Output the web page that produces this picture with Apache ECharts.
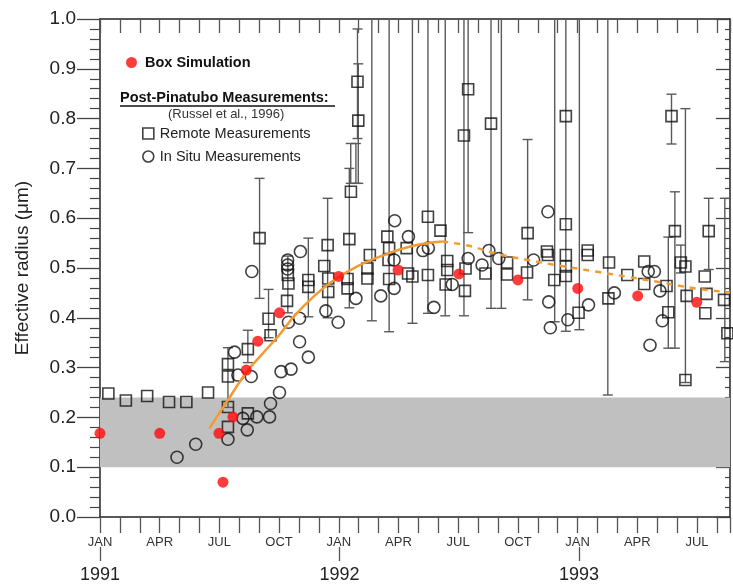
<!DOCTYPE html>
<html>
<head>
<meta charset="utf-8">
<script src="https://cdn.jsdelivr.net/npm/echarts@6/dist/echarts.min.js"></script>
<style>html,body{margin:0;padding:0;background:#fff}#c{width:733px;height:584px}</style>
</head>
<body>
<div id="c"></div>
<script>
// ---- data (x = months since Jan 1991) ----
const MONTH_NAMES = ['JAN','','','APR','','','JUL','','','OCT','',''];
const YEAR_LABELS = ['1991', '1992', '1993'];
const X_MAX = 31.66;
const BAND = [0.1, 0.24];

const boxSimulation = [
  [0,0.168],[3.0,0.168],[5.98,0.168],[6.18,0.07],[6.68,0.201],[7.35,0.295],[7.93,0.353],
  [9.02,0.41],[11.99,0.483],[14.98,0.496],[18.04,0.488],[21.0,0.476],[24.01,0.459],
  [27.02,0.444],[29.99,0.431]
];

const fitSolid = [
  [5.5,0.178],[6.43,0.235],[7.35,0.29],[8.1,0.325],[9.0,0.365],[9.77,0.404],[10.8,0.445],
  [11.77,0.476],[13.0,0.505],[14.4,0.528],[15.8,0.545],[17.2,0.553]
];
const fitDashed = [
  [17.2,0.553],[18.5,0.545],[19.87,0.529],[21.5,0.516],[23.2,0.504],[24.9,0.493],
  [26.55,0.482],[28.2,0.471],[29.9,0.459],[31.66,0.451]
];

const remote = [
  [0.42,0.248],[1.3,0.234],[2.37,0.243],[3.47,0.231],[4.34,0.231],[5.43,0.25],
  [6.43,0.307],[6.43,0.282],[6.43,0.221],[6.43,0.181],[7.43,0.337],[7.43,0.208],[8.02,0.56],
  [8.47,0.398],[8.57,0.365],[9.4,0.434],[9.47,0.469],[9.44,0.486],[10.47,0.476],[10.47,0.462],
  [11.27,0.504],[11.44,0.546],[11.47,0.479],[11.47,0.452],
  [12.44,0.478],[12.44,0.459],[12.53,0.558],[12.61,0.653],[12.94,0.874],[12.98,0.796],
  [13.56,0.526],[13.44,0.499],[13.44,0.479],[14.44,0.563],[14.53,0.54],[14.5,0.516],[14.53,0.478],
  [15.41,0.54],[15.48,0.489],[15.7,0.483],[16.48,0.603],[16.48,0.486],
  [17.11,0.575],[17.45,0.514],[17.45,0.496],[17.37,0.467],
  [18.34,0.454],[18.37,0.499],[18.5,0.859],[18.29,0.766],[19.65,0.79],[19.37,0.489],
  [20.46,0.511],[20.46,0.487],[21.49,0.57],[21.46,0.491],[22.46,0.533],[22.51,0.526],[22.83,0.476],
  [23.41,0.805],[23.41,0.588],[23.41,0.526],[23.41,0.503],[23.41,0.484],
  [24.05,0.41],[24.51,0.535],[24.51,0.526],[25.58,0.511],[25.55,0.439],[26.5,0.486],
  [27.35,0.513],[27.35,0.468],[28.72,0.805],[28.89,0.574],[28.47,0.464],[28.56,0.411],
  [29.19,0.511],[29.42,0.503],[29.48,0.444],[29.42,0.275],
  [30.59,0.574],[30.39,0.483],[30.48,0.448],[30.42,0.409],[31.36,0.436],[31.53,0.369]
];

// [month, low, high]
const remoteErr = [
  [6.43,0.22,0.34],[7.43,0.31,0.375],[8.02,0.439,0.68],[8.47,0.36,0.457],[9.44,0.41,0.524],
  [10.47,0.402,0.56],[11.44,0.40,0.64],[12.53,0.42,0.70],[12.6,0.67,0.75],[12.86,0.67,0.75],
  [12.94,0.76,0.98],[12.98,0.67,0.91],[13.66,0.394,1.5],[14.53,0.372,1.5],[15.7,0.389,1.5],
  [16.48,0.409,1.5],[17.35,0.404,1.5],[18.29,0.404,1.5],[18.5,0.571,1.5],[19.65,0.419,1.5],
  [20.17,0.419,1.5],[21.49,0.436,0.758],[22.85,0.392,1.5],[23.41,0.373,1.5],[24.09,0.376,1.5],
  [25.52,0.245,1.5],[28.72,0.749,0.849],[28.89,0.339,0.653],[28.56,0.339,0.562],
  [29.19,0.49,0.546],[29.42,0.27,0.82],[30.59,0.497,0.64],[31.4,0.312,0.64]
];

const inSitu = [
  [3.87,0.12],[4.81,0.146],[6.43,0.156],[6.76,0.331],[6.93,0.285],[7.18,0.198],[7.4,0.175],
  [7.6,0.282],[7.63,0.493],[7.88,0.201],[8.52,0.201],[8.57,0.228],[9.02,0.25],[9.1,0.292],
  [9.6,0.297],[9.43,0.516],[9.43,0.506],[9.43,0.498],[9.47,0.391],[10.03,0.352],[10.03,0.399],
  [10.07,0.533],[10.47,0.321],[11.35,0.414],[11.97,0.391],[12.86,0.439],[14.11,0.444],
  [14.78,0.459],[14.78,0.516],[14.81,0.595],[15.5,0.563],[16.23,0.535],[16.5,0.54],[16.78,0.421],
  [17.7,0.467],[18.5,0.519],[19.2,0.506],[19.54,0.535],[20.04,0.519],[21.79,0.516],
  [22.51,0.613],[22.55,0.432],[22.63,0.38],[23.51,0.396],[24.55,0.426],[25.85,0.45],
  [27.55,0.493],[27.86,0.493],[28.14,0.454],[28.26,0.394],[27.64,0.345]
];

// ---- chart ----
const FONT = "'Liberation Sans', Arial, Helvetica, sans-serif";
const chart = echarts.init(document.getElementById('c'), null, {renderer: 'canvas'});

const GRID_LEFT = 100, GRID_W = 632;
const PX_PER_MONTH = GRID_W / X_MAX;
// year-axis grid spans Jan 1991 .. Jan 1993 at the same scale
const YEAR_SPAN = 24;
const YEAR_GRID_W = YEAR_SPAN * PX_PER_MONTH;

function monthLabel(v) {
  if (Math.abs(v - Math.round(v)) > 1e-6) return '';
  const r = Math.round(v);
  return r % 3 === 0 ? MONTH_NAMES[r % 12] : '';
}

const option = {
  backgroundColor: '#fff',
  animation: false,
  textStyle: {fontFamily: FONT},
  grid: [
    {left: GRID_LEFT, width: GRID_W, top: 19, bottom: 67},
    {left: GRID_LEFT, width: YEAR_GRID_W, top: 540, height: 8}
  ],
  xAxis: [
    {
      gridIndex: 0, type: 'value', min: 0, max: X_MAX, interval: 1, position: 'bottom',
      axisLine: {show: true, onZero: false, lineStyle: {color: '#222', width: 1.5}},
      axisTick: {show: true, inside: false, length: 16, lineStyle: {color: '#555', width: 1.3}},
      axisLabel: {formatter: monthLabel, fontSize: 13, color: '#333', margin: 19, fontFamily: FONT},
      splitLine: {show: false}
    },
    {
      gridIndex: 0, type: 'value', min: 0, max: X_MAX, interval: 1, position: 'top',
      axisLine: {show: true, onZero: false, lineStyle: {color: '#222', width: 1.5}},
      axisTick: {show: true, inside: true, length: 14, lineStyle: {color: '#555', width: 1.3}},
      axisLabel: {show: false},
      splitLine: {show: false}
    },
    {
      gridIndex: 1, type: 'value', min: 0, max: YEAR_SPAN, interval: 12, position: 'bottom',
      axisLine: {show: false, onZero: false},
      axisTick: {show: true, inside: false, length: 14, lineStyle: {color: '#555', width: 1.3}},
      axisLabel: {
        formatter: function (v) { return YEAR_LABELS[Math.round(v / 12)] || ''; },
        fontSize: 18, color: '#222', margin: 19, fontFamily: FONT
      },
      splitLine: {show: false}
    }
  ],
  yAxis: [
    {
      gridIndex: 0, type: 'value', min: 0, max: 1, interval: 0.1, position: 'left',
      name: 'Effective radius (\u03bcm)', nameLocation: 'middle', nameGap: 68,
      nameTextStyle: {fontSize: 19, color: '#222', fontFamily: FONT},
      axisLine: {show: true, onZero: false, lineStyle: {color: '#222', width: 1.5}},
      axisTick: {show: true, inside: false, length: 23, lineStyle: {color: '#444', width: 1.3}},
      minorTick: {show: true, splitNumber: 5, length: 10, lineStyle: {color: '#444', width: 1.2}},
      axisLabel: {formatter: function (v) { return v.toFixed(1); }, fontSize: 19, color: '#222', margin: 24, fontFamily: FONT},
      splitLine: {show: false}
    },
    {
      gridIndex: 0, type: 'value', min: 0, max: 1, interval: 0.1, position: 'right',
      axisLine: {show: true, onZero: false, lineStyle: {color: '#222', width: 1.5}},
      axisTick: {show: true, inside: true, length: 14, lineStyle: {color: '#444', width: 1.3}},
      minorTick: {show: true, splitNumber: 5, length: 5, lineStyle: {color: '#444', width: 1.2}},
      axisLabel: {show: false},
      splitLine: {show: false}
    },
    {
      gridIndex: 1, type: 'value', min: 0, max: 1, show: false
    }
  ],
  legend: [
    {
      data: ['Box Simulation'], left: 121, top: 50, itemWidth: 11, itemHeight: 11,
      textStyle: {fontSize: 14.5, fontWeight: 'bold', color: '#111', fontFamily: FONT, padding: [0, 0, 0, 3]}
    },
    {
      data: [
        {name: 'Remote Measurements', icon: 'rect', itemStyle: {color: 'rgba(0,0,0,0)', borderColor: '#111', borderWidth: 1.6}},
        {name: 'In Situ Measurements', icon: 'circle', itemStyle: {color: 'rgba(0,0,0,0)', borderColor: '#111', borderWidth: 1.6}}
      ],
      orient: 'vertical', left: 137, top: 121, itemGap: 8, itemWidth: 11, itemHeight: 11,
      textStyle: {fontSize: 14.5, color: '#222', fontFamily: FONT, padding: [0, 0, 0, 1]}
    }
  ],
  graphic: [
    {type: 'text', left: 120, top: 90, style: {text: 'Post-Pinatubo Measurements:', font: 'bold 14.5px ' + FONT, fill: '#111'}},
    {type: 'line', shape: {x1: 120, y1: 106, x2: 335, y2: 106}, style: {stroke: '#111', lineWidth: 1.3}},
    {type: 'text', left: 168, top: 108, style: {text: '(Russel et al., 1996)', font: '13px ' + FONT, fill: '#333'}}
  ],
  series: [
    {
      name: 'band', type: 'line', data: [], z: 1, silent: true, xAxisIndex: 0, yAxisIndex: 0,
      markArea: {
        silent: true,
        itemStyle: {color: '#c0c0c0', opacity: 1},
        data: [[{yAxis: BAND[0]}, {yAxis: BAND[1]}]]
      }
    },
    {
      name: 'errors', type: 'custom', z: 2, silent: true, clip: true, xAxisIndex: 0, yAxisIndex: 0,
      data: remoteErr,
      encode: {x: 0, y: [1, 2]},
      renderItem: function (params, api) {
        const x = api.coord([api.value(0), 0])[0];
        const lo = api.coord([api.value(0), api.value(1)])[1];
        const hi = api.coord([api.value(0), api.value(2)])[1];
        const cs = params.coordSys;
        const top = cs.y, bot = cs.y + cs.height;
        const y1 = Math.max(hi, top), y2 = Math.min(lo, bot);
        const st = {stroke: '#5a5a5a', lineWidth: 1.4};
        const ch = [{type: 'line', shape: {x1: x, y1: y1, x2: x, y2: y2}, style: st}];
        if (hi >= top) ch.push({type: 'line', shape: {x1: x - 5, y1: hi, x2: x + 5, y2: hi}, style: st});
        if (lo <= bot) ch.push({type: 'line', shape: {x1: x - 5, y1: lo, x2: x + 5, y2: lo}, style: st});
        return {type: 'group', children: ch};
      }
    },
    {
      name: 'Remote Measurements', type: 'scatter', z: 3, symbol: 'rect', symbolSize: 11,
      xAxisIndex: 0, yAxisIndex: 0, data: remote,
      itemStyle: {color: 'rgba(0,0,0,0)', borderColor: '#111', borderWidth: 1.6}
    },
    {
      name: 'In Situ Measurements', type: 'scatter', z: 3, symbol: 'circle', symbolSize: 12,
      xAxisIndex: 0, yAxisIndex: 0, data: inSitu,
      itemStyle: {color: 'rgba(0,0,0,0)', borderColor: '#111', borderWidth: 1.6}
    },
    {
      name: 'fit', type: 'line', z: 4, smooth: 0.4, showSymbol: false, silent: true,
      xAxisIndex: 0, yAxisIndex: 0,
      data: fitSolid, lineStyle: {color: '#f39a30', width: 2.5}
    },
    {
      name: 'fit2', type: 'line', z: 4, smooth: 0.4, showSymbol: false, silent: true,
      xAxisIndex: 0, yAxisIndex: 0,
      data: fitDashed, lineStyle: {color: '#f39a30', width: 2.5, type: [6, 6]}
    },
    {
      name: 'Box Simulation', type: 'scatter', z: 5, symbol: 'circle', symbolSize: 11,
      xAxisIndex: 0, yAxisIndex: 0,
      data: boxSimulation, itemStyle: {color: '#ff0a0a'}
    }
  ]
};
chart.setOption(option);
</script>
</body>
</html>
